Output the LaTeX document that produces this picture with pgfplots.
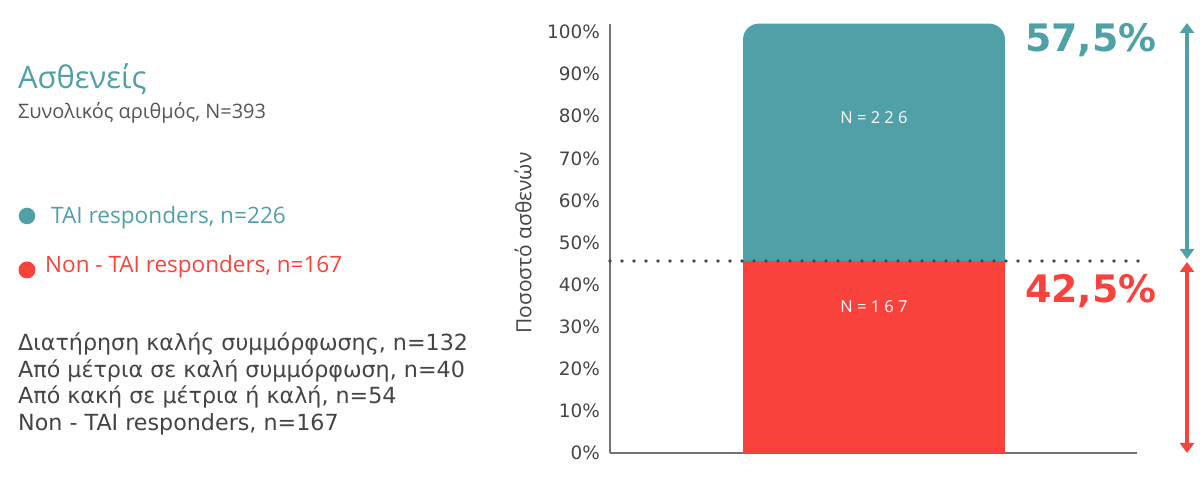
\documentclass[border=0pt]{standalone}
\usepackage{pgfplots}
\pgfplotsset{compat=1.18}
\usetikzlibrary{arrows.meta}
\usepackage{fontspec}
\setmainfont{Open Sans}
\newfontfamily\dejavu{DejaVu Sans}
\definecolor{teal1}{HTML}{50A0A8}
\definecolor{red1}{HTML}{FA423C}
\definecolor{txt}{HTML}{444444}
\definecolor{sub}{HTML}{555555}
\begin{document}
\begin{tikzpicture}[x=1bp,y=1bp]
\useasboundingbox (0,0) rectangle (1200,480);
\begin{axis}[
  at={(610bp,27bp)}, anchor=south west, scale only axis,
  width=527bp, height=429.4bp,
  xmin=0, xmax=527, ymin=0, ymax=102,
  axis x line*=bottom, axis y line*=left,
  axis line style={draw=black!55, line width=1.3bp, -},
  xtick=\empty,
  ytick={0,10,...,100},
  yticklabel={\pgfmathprintnumber{\tick}\%},
  major tick length=0pt,
  yticklabel style={font=\dejavu\fontsize{18.5}{20}\selectfont, text=txt, anchor=east, inner sep=0pt, xshift=-10bp},
  /pgf/number format/assume math mode=true,
  clip=false,
]
\addplot[ybar, bar width=262, fill=teal1, draw=none, rounded corners=16bp] coordinates {(264,102)};
\addplot[ybar, bar width=262, fill=red1, draw=none] coordinates {(264,45.6)};
\addplot[draw=black!72, line width=3.6bp, line cap=round, dash pattern=on 0bp off 12bp] coordinates {(0,45.6) (530,45.6)};
\end{axis}
% left texts
\node[anchor=base west, inner sep=0, text=teal1, font=\fontsize{31}{33}\selectfont] at (18,391.7) {Ασθενείς};
\node[anchor=base west, inner sep=0, text=sub, font=\fontsize{20}{22}\selectfont] at (18,361.7) {Συνολικός αριθμός, N=393};
\fill[teal1] (27,264) circle (8.3);
\node[anchor=base west, inner sep=0, text=teal1, font=\fontsize{22.7}{24}\selectfont] at (51,256.7) {TAI responders, n=226};
\fill[red1] (27,210) circle (8.5);
\node[anchor=base west, inner sep=0, text=red1, font=\fontsize{22.6}{24}\selectfont] at (45,207) {Non - TAI responders, n=167};
\node[anchor=base west, inner sep=0, text=txt, font=\dejavu\fontsize{22.3}{24}\selectfont] at (18,129.5) {Διατήρηση καλής συμμόρφωσης, n=132};
\node[anchor=base west, inner sep=0, text=txt, font=\dejavu\fontsize{22.3}{24}\selectfont] at (18,102.8) {Από μέτρια σε καλή συμμόρφωση, n=40};
\node[anchor=base west, inner sep=0, text=txt, font=\dejavu\fontsize{22.3}{24}\selectfont] at (18,76) {Από κακή σε μέτρια ή καλή, n=54};
\node[anchor=base west, inner sep=0, text=txt, font=\dejavu\fontsize{22.3}{24}\selectfont] at (18,49.3) {Non - TAI responders, n=167};
% y label
\node[rotate=90, text=txt, font=\fontsize{21}{22}\selectfont] at (523,237) {Ποσοστό ασθενών};
% bar labels
\node[text=white, font=\fontsize{16.5}{18}\selectfont] at (874,362) {N = 2 2 6};
\node[text=white, font=\fontsize{16.5}{18}\selectfont] at (874,173) {N = 1 6 7};
% percentages
\node[anchor=base west, inner sep=0, text=teal1, font=\dejavu\bfseries\fontsize{38}{40}\selectfont] at (1025,428) {57,5\%};
\node[anchor=base west, inner sep=0, text=red1, font=\dejavu\bfseries\fontsize{38}{40}\selectfont] at (1025,177) {42,5\%};
% arrows
\draw[teal1, line width=4bp, {Triangle[width=14bp,length=10bp]}-{Triangle[width=14bp,length=10bp]}] (1187,221) -- (1187,457);
\draw[red1, line width=4bp, {Triangle[width=14bp,length=10bp]}-{Triangle[width=14bp,length=10bp]}] (1187,218) -- (1187,27);
\end{tikzpicture}
\end{document}
